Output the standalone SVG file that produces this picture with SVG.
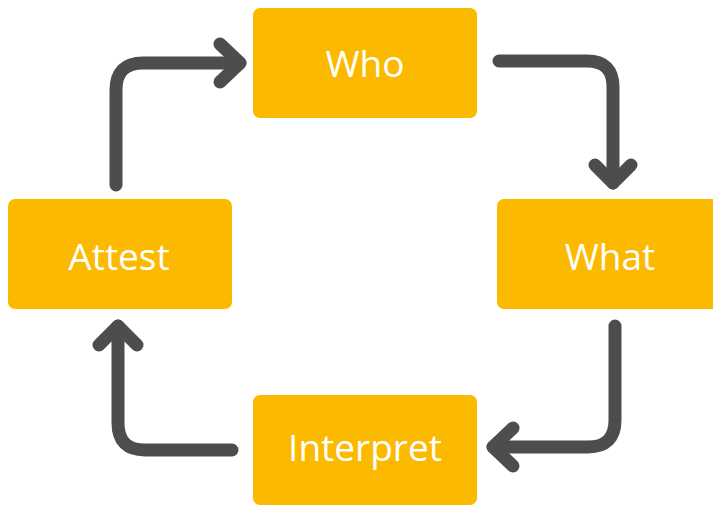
<svg xmlns="http://www.w3.org/2000/svg" width="713" height="506" viewBox="0 0 713 506">
  <style>
    .box { fill: #FBBA00; }
    .label { fill: #FFFFFF; font-family: "Open Sans", Lato, "Liberation Sans", sans-serif; font-size: 37px; text-anchor: middle; }
    .arrow { fill: none; stroke: #4D4D4F; stroke-width: 13; stroke-linecap: round; stroke-linejoin: round; }
  </style>
  <rect width="713" height="506" fill="#FFFFFF"/>
  <g id="connectors">
    <!-- Attest to Who -->
    <path class="arrow" d="M116 185 V90 Q116 63 143 63 H240"/>
    <path class="arrow" d="M220 44 L240 63 L220 82"/>
    <!-- Who to What -->
    <path class="arrow" d="M499 61 H587 Q613 61 613 87 V183"/>
    <path class="arrow" d="M595 165 L613 183 L631 165"/>
    <!-- What to Interpret -->
    <path class="arrow" d="M615 326 V420 Q615 447 588 447 H493"/>
    <path class="arrow" d="M513 428 L493 447 L513 466"/>
    <!-- Interpret to Attest -->
    <path class="arrow" d="M232 450 H145 Q118 450 118 423 V326"/>
    <path class="arrow" d="M99 345 L118 326 L137 345"/>
  </g>
  <g id="who">
    <rect class="box" x="253" y="8" width="224" height="110" rx="7"/>
    <text class="label" x="365" y="77">Who</text>
  </g>
  <g id="what">
    <rect class="box" x="497" y="199" width="224" height="110" rx="7"/>
    <text class="label" x="610" y="270">What</text>
  </g>
  <g id="interpret">
    <rect class="box" x="253" y="395" width="224" height="110" rx="7"/>
    <text class="label" x="365" y="461">Interpret</text>
  </g>
  <g id="attest">
    <rect class="box" x="8" y="199" width="224" height="110" rx="7"/>
    <text class="label" x="119" y="270">Attest</text>
  </g>
</svg>
